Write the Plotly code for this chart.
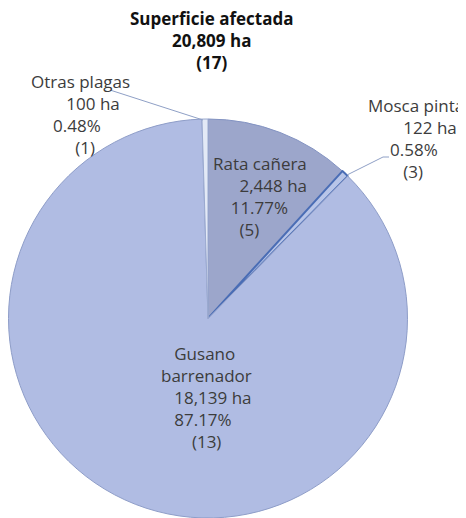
import plotly.graph_objects as go

# ---- data ----
plagas = ["Rata cañera", "Mosca pinta", "Gusano barrenador", "Otras plagas"]
hectareas = [2448, 122, 18139, 100]
porcentajes = ["11.77%", "0.58%", "87.17%", "0.48%"]
casos = [5, 3, 13, 1]
total_ha = 20809
total_casos = 17

colors = ["#9ca6cb", "#b8c5e8", "#b0bce3", "#e3e9f6"]
line_colors = ["#8393c2", "#4a6db5", "#8e9dc8", "#9aa9cf"]
line_widths = [1, 2, 1, 1]

# page has 8px body margin: figure is offset by (8, 8)
OX, OY = 8, 8
W, H = 466 - OX, 518 - OY

def px(x):
    return (x - OX) / W

def py(y):
    return 1 - (y - OY) / H

fig = go.Figure(go.Pie(
    labels=plagas,
    values=hectareas,
    sort=False,
    direction="clockwise",
    rotation=0,
    textinfo="none",
    hoverinfo="label+value+percent",
    marker=dict(colors=colors, line=dict(color=line_colors, width=line_widths)),
    domain=dict(x=[px(8), px(408)], y=[py(518), py(119)]),
    showlegend=False,
))

font = dict(family="Open Sans, Lato, sans-serif", size=17, color="#3c3c3c")
NB = "\u00a0"
ann = []

# title
tfont = dict(family="Open Sans, Lato, sans-serif", size=17, color="#111111")
ann.append(dict(
    text=f"<b>Superficie afectada</b><br><b>{total_ha:,} ha</b><br><b>({total_casos})</b>",
    x=px(212), y=py(40), xref="paper", yref="paper", showarrow=False,
    xanchor="center", yanchor="middle", align="center", font=tfont))

# label placement: left edge, vertical center, indent (nbsp) per line
place = {
    "Rata cañera": (211, 196, [0, 6, 4, 6]),
    "Mosca pinta": (366, 138, [0, 8, 5, 8]),
    "Otras plagas": (29, 114, [0, 8, 5, 10]),
    "Gusano barrenador": (159, 397, [3, 0, 3, 3, 7]),
}
for i, name in enumerate(plagas):
    if name == "Gusano barrenador":
        first = name.split(" ")
    else:
        first = [name]
    lines = first + [f"{hectareas[i]:,} ha", porcentajes[i], f"({casos[i]})"]
    x, y, ind = place[name]
    text = "<br>".join(NB * n + t for n, t in zip(ind, lines))
    ann.append(dict(text=text, x=px(x), y=py(y), xref="paper", yref="paper",
                    showarrow=False, xanchor="left", yanchor="middle", align="left", font=font))

lc = dict(color="#8fa0c6", width=1)
shapes = [
    dict(type="line", xref="paper", yref="paper", x0=px(110), y0=py(90), x1=px(203), y1=py(120), line=lc),
    dict(type="line", xref="paper", yref="paper", x0=px(347), y0=py(175), x1=px(383), y1=py(157), line=lc),
    dict(type="line", xref="paper", yref="paper", x0=px(383), y0=py(157), x1=px(389), y1=py(157), line=lc),
]

fig.update_layout(
    width=W, height=H,
    margin=dict(l=0, r=0, t=0, b=0),
    paper_bgcolor="white", plot_bgcolor="white",
    annotations=ann, shapes=shapes,
)

fig.write_html("out.html")
